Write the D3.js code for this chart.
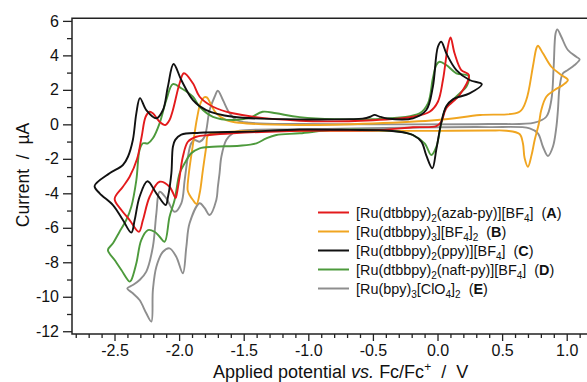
<!DOCTYPE html>
<html><head><meta charset="utf-8">
<script src="https://cdn.jsdelivr.net/npm/d3@7/dist/d3.min.js"></script>
<style>
html,body{margin:0;padding:0;background:#fff;}
svg{display:block;font-family:"Liberation Sans",Arial,Helvetica,sans-serif;}
text{white-space:pre;}
</style></head>
<body><svg id="chart" width="587" height="382"></svg>
<script>
// ---- data (potential V vs Fc/Fc+, current µA) ----
const xTickValues = [-2.5, -2.0, -1.5, -1.0, -0.5, 0.0, 0.5, 1.0];
const yTickValues = [-12, -10, -8, -6, -4, -2, 0, 2, 4, 6];

const seriesNames = ["A", "B", "C", "D", "E"];
const seriesColors = ["#e31a1c", "#f0a520", "#111111", "#4d9a3c", "#8e8e8e"];

// A: [Ru(dtbbpy)2(azab-py)][BF4]
const seriesA = [
  [0.243, 2.86], [0.171, 1.70], [0.068, 0.93], [0.029, 0.15], [-0.009, -0.10], [-0.19, -0.17],
  [-0.448, -0.33], [-1.067, -0.37], [-1.584, -0.52], [-1.764, -0.62], [-1.867, -0.72], [-1.932, -1.01],
  [-1.971, -1.88], [-1.996, -3.04], [-2.017, -4.00], [-2.027, -4.27], [-2.074, -3.62], [-2.151, -3.33],
  [-2.228, -4.20], [-2.280, -5.55], [-2.311, -6.23], [-2.383, -5.55], [-2.447, -4.97], [-2.499, -4.33],
  [-2.435, -3.62], [-2.383, -3.04], [-2.325, -2.0], [-2.290, -0.72], [-2.259, 0.44], [-2.228, 0.73],
  [-2.203, 0.64], [-2.151, 0.15], [-2.107, -0.04], [-2.074, 0.25], [-2.048, 0.83], [-1.996, 2.38],
  [-1.963, 2.96], [-1.893, 2.38], [-1.841, 1.60], [-1.738, 1.02], [-1.584, 0.64], [-1.067, 0.21],
  [-0.5, 0.24], [-0.19, 0.44], [-0.061, 0.73], [0.003, 1.31], [0.042, 2.57], [0.080, 4.50],
  [0.101, 5.04], [0.132, 4.12], [0.184, 3.15]
];
// B: [Ru(dtbbpy)3][BF4]2
const seriesB = [
  [1.009, 2.57], [0.971, 2.28], [0.906, 1.99], [0.842, 1.60], [0.803, 0.83], [0.785, 0.06],
  [0.752, -0.91], [0.728, -1.78], [0.700, -2.46], [0.674, -1.95], [0.661, -1.10], [0.635, -0.56],
  [0.533, -0.37], [0.40, -0.36], [0.0, -0.38], [-0.5, -0.38], [-1.0, -0.37], [-1.5, -0.40],
  [-1.738, -0.52], [-1.777, -0.62], [-1.790, -1.30], [-1.816, -2.65], [-1.841, -4.0], [-1.865, -4.62],
  [-1.893, -4.39], [-1.919, -4.10], [-1.934, -3.81], [-1.926, -2.94], [-1.911, -2.07], [-1.888, -0.91],
  [-1.861, 0.37], [-1.834, 1.23], [-1.803, 1.58], [-1.783, 1.55], [-1.756, 1.18], [-1.712, 0.64],
  [-1.635, 0.25], [-1.532, 0.09], [-1.067, -0.04], [-0.5, 0.05], [0.0, 0.25], [0.33, 0.54],
  [0.635, 0.73], [0.687, 1.41], [0.738, 3.34], [0.765, 4.41], [0.777, 4.56], [0.816, 4.12],
  [0.881, 3.34], [0.958, 2.86]
];
// C: [Ru(dtbbpy)2(ppy)][BF4]
const seriesC = [
  [0.343, 2.33], [0.248, 1.80], [0.119, 1.45], [0.068, 1.05], [0.029, 0.10], [-0.009, -1.45],
  [-0.040, -2.55], [-0.087, -1.80], [-0.125, -1.00], [-0.19, -0.62], [-0.24, -0.50], [-0.371, -0.37],
  [-0.68, -0.32], [-1.067, -0.30], [-1.454, -0.42], [-1.841, -0.49], [-1.983, -0.60], [-2.030, -0.9],
  [-2.048, -1.30], [-2.060, -2.84], [-2.086, -4.20], [-2.104, -4.68], [-2.176, -4.00], [-2.245, -3.30],
  [-2.306, -4.20], [-2.344, -5.55], [-2.370, -6.28], [-2.435, -5.55], [-2.512, -4.68], [-2.615, -4.00],
  [-2.654, -3.58], [-2.538, -2.84], [-2.435, -2.36], [-2.396, -1.88], [-2.358, -0.91], [-2.331, 0.64],
  [-2.303, 1.52], [-2.254, 0.83], [-2.176, 0.35], [-2.125, 0.83], [-2.087, 2.18], [-2.043, 3.50],
  [-1.983, 2.57], [-1.893, 1.41], [-1.790, 0.83], [-1.584, 0.44], [-1.067, 0.29], [-0.68, 0.30],
  [-0.58, 0.33], [-0.52, 0.44], [-0.487, 0.55], [-0.45, 0.45], [-0.39, 0.34], [-0.19, 0.35],
  [-0.087, 0.83], [-0.036, 2.18], [0.003, 4.50], [0.029, 4.79], [0.068, 4.12], [0.146, 3.15],
  [0.248, 2.57]
];
// D: [Ru(dtbbpy)2(naft-py)][BF4]
const seriesD = [
  [0.24, 2.80], [0.223, 2.18], [0.171, 1.80], [0.119, 1.41], [0.068, 1.02], [0.029, 0.06],
  [-0.009, -1.30], [-0.048, -1.78], [-0.10, -1.10], [-0.19, -0.62], [-0.29, -0.43], [-0.45, -0.33],
  [-0.8, -0.32], [-1.067, -0.52], [-1.248, -0.62], [-1.325, -0.81], [-1.402, -1.10], [-1.532, -1.24],
  [-1.738, -1.30], [-1.841, -1.39], [-1.906, -1.68], [-1.957, -2.26], [-1.996, -2.84], [-2.035, -4.39],
  [-2.074, -5.36], [-2.112, -6.81], [-2.151, -6.52], [-2.190, -6.23], [-2.241, -6.13], [-2.293, -6.71],
  [-2.331, -8.06], [-2.370, -9.03], [-2.383, -9.12], [-2.447, -8.45], [-2.499, -7.87], [-2.551, -7.29],
  [-2.512, -6.90], [-2.461, -6.23], [-2.409, -5.55], [-2.370, -4.78], [-2.331, -3.23], [-2.306, -1.49],
  [-2.280, -1.10], [-2.241, -1.10], [-2.203, -0.81], [-2.151, 0.06], [-2.099, 1.41], [-2.048, 2.33],
  [-1.983, 2.09], [-1.893, 1.60], [-1.841, 1.02], [-1.738, 0.44], [-1.584, 0.25], [-1.454, 0.37],
  [-1.354, 0.73], [-1.248, 0.64], [-1.067, 0.42], [-0.5, 0.30], [-0.139, 0.64], [-0.074, 1.22],
  [-0.036, 2.67], [-0.009, 3.44], [0.016, 3.63], [0.068, 3.44], [0.146, 2.96]
];
// E: [Ru(bpy)3][ClO4]2
const seriesE = [
  [1.100, 3.77], [1.061, 3.44], [1.009, 3.15], [0.971, 2.96], [0.945, 2.18], [0.932, 0.83],
  [0.920, -0.14], [0.893, -1.30], [0.855, -1.84], [0.816, -1.30], [0.777, -0.52], [0.713, -0.23],
  [0.403, -0.16], [0.0, -0.17], [-1.067, -0.29], [-1.532, -0.37], [-1.584, -0.52], [-1.635, -0.91],
  [-1.673, -1.88], [-1.687, -2.84], [-1.700, -3.62], [-1.712, -4.39], [-1.764, -5.26], [-1.803, -4.85],
  [-1.841, -4.58], [-1.919, -5.74], [-1.944, -7.10], [-1.971, -8.64], [-2.022, -7.68], [-2.074, -7.19],
  [-2.125, -7.39], [-2.176, -8.26], [-2.203, -9.61], [-2.215, -11.44], [-2.254, -10.96], [-2.306, -10.19],
  [-2.358, -9.80], [-2.401, -9.51], [-2.358, -9.32], [-2.306, -9.03], [-2.254, -8.54], [-2.203, -7.10],
  [-2.176, -5.16], [-2.151, -3.91], [-2.099, -4.29], [-2.035, -5.07], [-1.983, -4.58], [-1.957, -3.23],
  [-1.932, -1.88], [-1.906, -1.10], [-1.880, -0.91], [-1.841, -1.01], [-1.803, -0.72], [-1.764, 0.83],
  [-1.725, 1.60], [-1.700, 1.95], [-1.661, 1.41], [-1.609, 0.64], [-1.557, 0.25], [-1.454, 0.09],
  [-1.067, 0.02], [-0.5, 0.0], [0.4, 0.02], [0.75, 0.10], [0.842, 0.44], [0.881, 1.41],
  [0.899, 3.34], [0.914, 5.28], [0.927, 5.51], [0.958, 5.08], [1.009, 4.31], [1.074, 3.92]
];

const legendLabels = [
  [["[Ru(dtbbpy)"], ["2", "sub"], ["(azab-py)][BF"], ["4", "sub"], ["]  ("], ["A", "b"], [")"]],
  [["[Ru(dtbbpy)"], ["3", "sub"], ["][BF"], ["4", "sub"], ["]"], ["2", "sub"], ["  ("], ["B", "b"], [")"]],
  [["[Ru(dtbbpy)"], ["2", "sub"], ["(ppy)][BF"], ["4", "sub"], ["]  ("], ["C", "b"], [")"]],
  [["[Ru(dtbbpy)"], ["2", "sub"], ["(naft-py)][BF"], ["4", "sub"], ["]  ("], ["D", "b"], [")"]],
  [["[Ru(bpy)"], ["3", "sub"], ["[ClO"], ["4", "sub"], ["]"], ["2", "sub"], ["  ("], ["E", "b"], [")"]]
];

// ---- drawing ----
const svg = d3.select("#chart");
const pLeft = 72, pRight = 587, pTop = 18.3, pBottom = 334;
const x = d3.scaleLinear().domain([-2.829, 1.157]).range([pLeft, pRight]);
const y = d3.scaleLinear().domain([-12.16, 6.15]).range([pBottom, pTop]);
const axisColor = "#222";
const fmt = v => d3.format(".1f")(v).replace("\u2212", "-");
const fmtY = v => String(v).replace("\u2212", "-");

// minor ticks
const xMinor = d3.range(-28, 12).map(d => d / 10).filter(v => !xTickValues.some(t => Math.abs(t - v) < 1e-6));
const yMinor = d3.range(-11, 7, 2);

const gx = svg.append("g").attr("transform", `translate(0,${pBottom})`);
gx.call(d3.axisBottom(x).tickValues(xMinor).tickSize(4).tickSizeOuter(0).tickFormat(""));
gx.select(".domain").remove();
const gx2 = svg.append("g").attr("transform", `translate(0,${pBottom})`)
  .call(d3.axisBottom(x).tickValues(xTickValues).tickSize(7).tickSizeOuter(0).tickFormat(fmt).tickPadding(4));
gx2.select(".domain").remove();
gx2.selectAll("text").attr("font-size", 16).attr("fill", "#111").attr("font-family", "Liberation Sans, Arial, sans-serif");

const gy = svg.append("g").attr("transform", `translate(${pLeft},0)`);
gy.call(d3.axisLeft(y).tickValues(yMinor).tickSize(5).tickSizeOuter(0).tickFormat(""));
gy.select(".domain").remove();
const gy2 = svg.append("g").attr("transform", `translate(${pLeft},0)`)
  .call(d3.axisLeft(y).tickValues(yTickValues).tickSize(9).tickSizeOuter(0).tickFormat(fmtY).tickPadding(4));
gy2.select(".domain").remove();
gy2.selectAll("text").attr("font-size", 16).attr("fill", "#111").attr("font-family", "Liberation Sans, Arial, sans-serif");
svg.selectAll(".tick line").attr("stroke", axisColor).attr("stroke-width", 1.3);

// frame
svg.append("path")
  .attr("d", `M${pRight},${pTop}H${pLeft}V${pBottom}H${pRight}`)
  .attr("fill", "none").attr("stroke", axisColor).attr("stroke-width", 1.5);

// curves
const line = d3.line().x(d => x(d[0])).y(d => y(d[1])).curve(d3.curveCatmullRomClosed.alpha(0.5));
const allSeries = [seriesA, seriesB, seriesC, seriesD, seriesE];
const drawOrder = [4, 1, 3, 0, 2];
svg.append("g").selectAll("path").data(drawOrder).join("path")
  .attr("d", i => line(allSeries[i]))
  .attr("fill", "none")
  .attr("stroke", i => seriesColors[i])
  .attr("stroke-width", 1.9)
  .attr("stroke-linejoin", "round");

// legend
const lg = svg.append("g");
legendLabels.forEach((segs, i) => {
  const cy = 212.5 + i * 19;
  lg.append("line").attr("x1", 318).attr("x2", 349).attr("y1", cy).attr("y2", cy)
    .attr("stroke", seriesColors[i]).attr("stroke-width", 2);
  const t = lg.append("text").attr("x", 356).attr("y", cy + 5.3).attr("font-size", 14.4).attr("fill", "#111");
  let wasSub = false;
  segs.forEach(s => {
    const ts = t.append("tspan").text(s[0]);
    if (s[1] === "sub") { ts.attr("font-size", 10).attr("dy", wasSub ? 0 : 4); wasSub = true; }
    else { if (wasSub) ts.attr("dy", -4); wasSub = false; if (s[1] === "b") ts.attr("font-weight", "bold"); }
  });
});

// axis titles
const xt = svg.append("text").attr("x", 213).attr("y", 377.5).attr("font-size", 18).attr("fill", "#111");
xt.append("tspan").text("Applied potential ");
xt.append("tspan").attr("font-style", "italic").text("vs.");
xt.append("tspan").text(" Fc/Fc");
xt.append("tspan").attr("font-size", 12).attr("dy", -7).text("+");
xt.append("tspan").attr("dy", 7).text("  /  V");

svg.append("text").attr("transform", "translate(29,175) rotate(-90)")
  .attr("text-anchor", "middle").attr("font-size", 17.5).attr("fill", "#111")
  .text("Current  /  \u00b5A");
</script></body></html>
